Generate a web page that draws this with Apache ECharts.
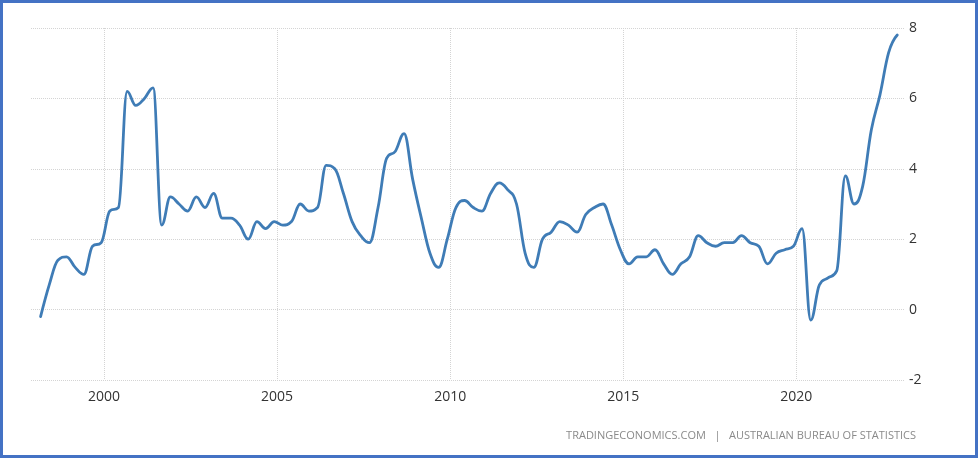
<!DOCTYPE html>
<html>
<head>
<meta charset="utf-8">
<script src="https://cdn.jsdelivr.net/npm/echarts@6/dist/echarts.min.js"></script>
<style>
  html, body { margin: 0; padding: 0; background: #fff; }
  #wrap { position: relative; width: 978px; height: 458px; }
  #chart { position: absolute; left: 0; top: 0; width: 978px; height: 458px; }
  #frame { position: absolute; left: 0; top: 0; width: 978px; height: 458px; box-sizing: border-box; border: 3px solid #4472c4; pointer-events: none; }
</style>
</head>
<body>
<div id="wrap">
  <div id="chart"></div>
  <div id="frame"></div>
</div>
<script>
// Australia inflation rate (annual %, quarterly), 1998 Q1 – 2022 Q4
const years = [1998,1999,2000,2001,2002,2003,2004,2005,2006,2007,2008,2009,2010,
               2011,2012,2013,2014,2015,2016,2017,2018,2019,2020,2021,2022];
const quarterMonths = [3, 6, 9, 12];
const inflation = [
  -0.2, 0.7, 1.4, 1.5,
   1.2, 1.0, 1.8, 1.9,
   2.8, 2.9, 6.2, 5.8,
   6.0, 6.3, 2.4, 3.2,
   3.0, 2.8, 3.2, 2.9,
   3.3, 2.6, 2.6, 2.4,
   2.0, 2.5, 2.3, 2.5,
   2.4, 2.5, 3.0, 2.8,
   2.9, 4.1, 4.0, 3.3,
   2.5, 2.1, 1.9, 2.9,
   4.3, 4.5, 5.0, 3.7,
   2.6, 1.6, 1.2, 2.0,
   2.9, 3.1, 2.9, 2.8,
   3.3, 3.6, 3.4, 3.0,
   1.6, 1.2, 2.0, 2.2,
   2.5, 2.4, 2.2, 2.7,
   2.9, 3.0, 2.4, 1.7,
   1.3, 1.5, 1.5, 1.7,
   1.3, 1.0, 1.3, 1.5,
   2.1, 1.9, 1.8, 1.9,
   1.9, 2.1, 1.9, 1.8,
   1.3, 1.6, 1.7, 1.8,
   2.3, -0.3, 0.7, 0.9,
   1.1, 3.8, 3.0, 3.5,
   5.1, 6.1, 7.3, 7.8
];
const xTickYears = [2000, 2005, 2010, 2015, 2020];
const yTicks = [-2, 0, 2, 4, 6, 8];
const sourceText = 'TRADINGECONOMICS.COM   |   AUSTRALIAN BUREAU OF STATISTICS';

// build [decimal year, value] pairs (observation dated at first day of quarter's last month)
const seriesData = [];
years.forEach(function (y, yi) {
  quarterMonths.forEach(function (m, qi) {
    seriesData.push([y + (m - 1) / 12, inflation[yi * 4 + qi]]);
  });
});

// spline path through pixel points (cardinal-style spline, smoothing 1.5)
function splinePath(pts) {
  const smoothing = 1.5, denom = smoothing + 1;
  let d = 'M' + pts[0][0] + ' ' + pts[0][1];
  let prevRight = null;
  for (let i = 1; i < pts.length; i++) {
    const p = pts[i], last = pts[i - 1], next = pts[i + 1];
    let lcx = p[0], lcy = p[1], right = null;
    if (next) {
      lcx = (smoothing * p[0] + last[0]) / denom;
      lcy = (smoothing * p[1] + last[1]) / denom;
      const rcx = (smoothing * p[0] + next[0]) / denom;
      let rcy = (smoothing * p[1] + next[1]) / denom;
      let corr = 0;
      if (rcx !== lcx) corr = ((rcy - lcy) * (rcx - p[0])) / (rcx - lcx) + p[1] - rcy;
      lcy += corr; rcy += corr;
      if (lcy > last[1] && lcy > p[1]) { lcy = Math.max(last[1], p[1]); rcy = 2 * p[1] - lcy; }
      else if (lcy < last[1] && lcy < p[1]) { lcy = Math.min(last[1], p[1]); rcy = 2 * p[1] - lcy; }
      if (rcy > next[1] && rcy > p[1]) { rcy = Math.max(next[1], p[1]); lcy = 2 * p[1] - rcy; }
      else if (rcy < next[1] && rcy < p[1]) { rcy = Math.min(next[1], p[1]); lcy = 2 * p[1] - rcy; }
      right = [rcx, rcy];
    }
    const c1 = prevRight || last;
    d += ' C' + c1[0] + ' ' + c1[1] + ' ' + lcx + ' ' + lcy + ' ' + p[0] + ' ' + p[1];
    prevRight = right;
  }
  return d;
}

const chart = echarts.init(document.getElementById('chart'), null, { renderer: 'canvas' });
const fontFamily = '"Open Sans", "Liberation Sans", sans-serif';
chart.setOption({
  animation: false,
  backgroundColor: '#ffffff',
  grid: { left: 31, right: 73, top: 28, bottom: 78, containLabel: false },
  xAxis: {
    type: 'value',
    min: 1997.89,
    max: 2023.14,
    axisLine: { show: false },
    axisTick: { show: false, customValues: xTickYears },
    axisLabel: {
      customValues: xTickYears,
      margin: 10,
      color: '#333',
      fontSize: 14,
      fontFamily: fontFamily,
      formatter: function (v) { return String(Math.round(v)); }
    },
    splitLine: { show: true, lineStyle: { color: '#d4d4d4', type: 'dotted', width: 1 } }
  },
  yAxis: {
    type: 'value',
    position: 'right',
    min: yTicks[0],
    max: yTicks[yTicks.length - 1],
    interval: 2,
    axisLine: { show: false },
    axisTick: { show: false },
    axisLabel: { margin: 4, color: '#333', fontSize: 14, fontFamily: fontFamily },
    splitLine: { show: true, lineStyle: { color: '#d4d4d4', type: 'dotted', width: 1 } }
  },
  graphic: [{
    type: 'text',
    right: 62,
    top: 430,
    style: { text: sourceText, fill: '#8a8a8a', fontSize: 11, fontFamily: fontFamily }
  }],
  series: [{
    type: 'custom',
    data: seriesData,
    encode: { x: 0, y: 1 },
    silent: true,
    z: 5,
    renderItem: function (params, api) {
      if (params.dataIndex !== 0) return null;
      const pts = seriesData.map(function (d) { return api.coord(d); });
      return {
        type: 'path',
        shape: { pathData: splinePath(pts) },
        style: { fill: null, stroke: '#3f7cb6', lineWidth: 2.8, lineJoin: 'round', lineCap: 'round' }
      };
    }
  }]
});
</script>
</body>
</html>
